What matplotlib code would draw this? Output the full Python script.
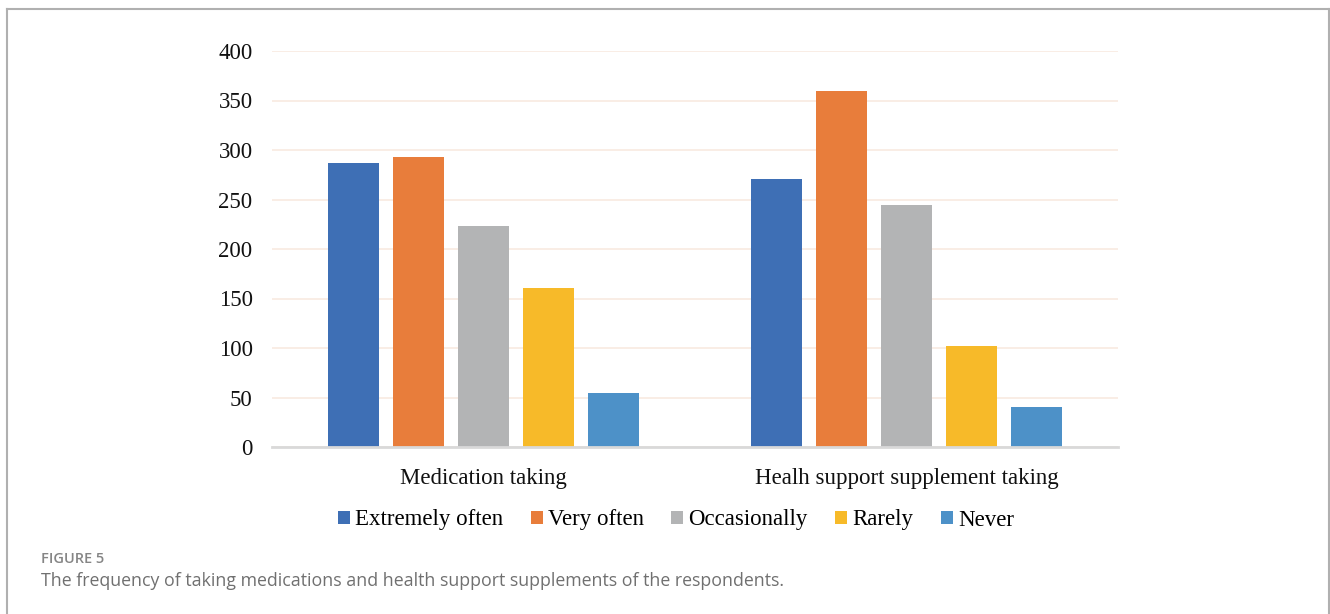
import matplotlib.pyplot as plt
from matplotlib.lines import Line2D

############################################################
# Data
############################################################

categories = ["Medication taking", "Healh support supplement taking"]

frequencies = ["Extremely often", "Very often", "Occasionally", "Rarely", "Never"]

extremely_often = [287, 271]
very_often = [293, 360]
occasionally = [223, 244]
rarely = [161, 102]
never = [55, 40]

yticks = [0, 50, 100, 150, 200, 250, 300, 350, 400]

series = [extremely_often, very_often, occasionally, rarely, never]

colors = ["#3E6FB5", "#E87D3B", "#B3B4B5", "#F7BA29", "#4D91C8"]

############################################################
# Figure
############################################################

W, H = 1330, 614

fig = plt.figure(figsize=(W / 100, H / 100), dpi=100)

ax = fig.add_axes([272 / W, 1 - 447 / H, (1118 - 272) / W, (447 - 51) / H])

pitch = 0.1537
width = 0.1206

for i, values in enumerate(series):

    xs = [c + (i - 2) * pitch for c in range(len(categories))]

    ax.bar(xs, values, width=width, color=colors[i], label=frequencies[i], zorder=3)

ax.set_xlim(-0.5, len(categories) - 0.5)
ax.set_ylim(0, 400)

ax.set_yticks(yticks)
ax.set_xticks(range(len(categories)))
ax.set_xticklabels(categories)

serif = "Liberation Serif"

for label in ax.get_yticklabels() + ax.get_xticklabels():
    label.set_fontfamily(serif)
    label.set_fontsize(16.5)
    label.set_color("#111111")

ax.tick_params(axis="y", length=0, pad=14)
ax.tick_params(axis="x", length=0, pad=15)

ax.grid(axis="y", color="#F8EAE0", linewidth=1.2, zorder=0)

for side in ["left", "right", "top"]:
    ax.spines[side].set_visible(False)

ax.spines["bottom"].set_color("#D9D9D9")
ax.spines["bottom"].set_linewidth(2)
ax.spines["bottom"].set_zorder(4)

############################################################
# Legend
############################################################

leg = fig.legend(
    loc="center",
    bbox_to_anchor=(676 / W, 1 - 520 / H),
    ncol=5,
    frameon=False,
    prop={"family": serif, "size": 16.5},
    handlelength=0.53,
    handleheight=0.53,
    handletextpad=0.22,
    columnspacing=1.2,
)

############################################################
# Caption and frame
############################################################

fig.text(41 / W, 1 - 563 / H, "FIGURE 5", fontfamily="Open Sans",
         fontweight="semibold", fontsize=10.5, color="#858585", va="baseline")

fig.text(41 / W, 1 - 586 / H,
         "The frequency of taking medications and health support supplements of the respondents.",
         fontfamily="Open Sans", fontsize=12.8, color="#707070", va="baseline")

frame_color = "#B0B0B0"

fig.add_artist(Line2D([6.5 / W, 6.5 / W], [0, 1 - 9 / H], color=frame_color, lw=1.5))
fig.add_artist(Line2D([1328.5 / W, 1328.5 / W], [0, 1 - 9 / H], color=frame_color, lw=1.5))
fig.add_artist(Line2D([6.5 / W, 1328.5 / W], [1 - 9 / H, 1 - 9 / H], color=frame_color, lw=1.5))

fig.savefig("out.png", dpi=100)
